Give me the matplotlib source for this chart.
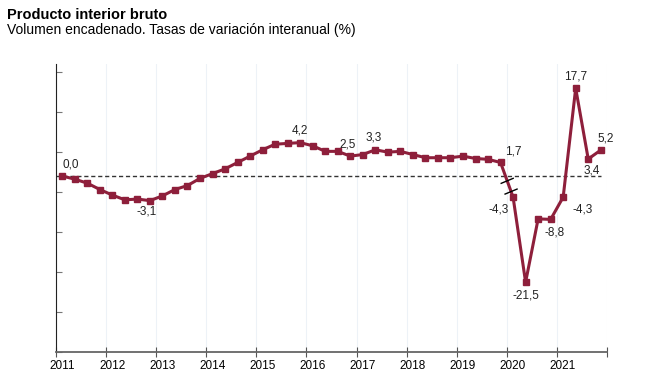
import numpy as np
import matplotlib
matplotlib.use('Agg')
import matplotlib.pyplot as plt
from matplotlib.transforms import ScaledTranslation

plt.rcParams['font.family'] = ['Liberation Sans', 'DejaVu Sans']

# PIB, tasas de variación interanual (%), trimestral
years = list(range(2011, 2022))
pib_2011_2019 = [0.0, -0.4, -0.9, -1.7,
                 -2.4, -3.0, -2.9, -3.1,
                 -2.5, -1.7, -1.2, -0.3,
                 0.3, 0.9, 1.7, 2.5,
                 3.3, 4.0, 4.1, 4.2,
                 3.8, 3.1, 3.1, 2.5,
                 2.7, 3.3, 3.0, 3.1,
                 2.7, 2.3, 2.3, 2.3,
                 2.5, 2.2, 2.1, 1.7]
pib_2020_2021 = [-4.3, -21.5, -8.7, -8.8,
                 -4.3, 17.7, 3.4, 5.2]

# etiquetas: (indice, texto, dx px, dy px, ha, va)
labels_pre = [(0, '0,0', 0, 6, 'left', 'bottom'),
              (7, '-3,1', -3, -5, 'center', 'top'),
              (19, '4,2', 0, 6, 'center', 'bottom'),
              (23, '2,5', -3, 6, 'center', 'bottom'),
              (25, '3,3', -2, 6, 'center', 'bottom'),
              (35, '1,7', 4, 5, 'left', 'bottom')]
labels_post = [(0, '-4,3', -4, -6, 'right', 'top'),
               (1, '-21,5', 0, -7, 'center', 'top'),
               (3, '-8,8', 4, -7, 'center', 'top'),
               (4, '-4,3', 9, -6, 'left', 'top'),
               (5, '17,7', 0, 6, 'center', 'bottom'),
               (6, '3,4', 4, -5, 'center', 'top'),
               (7, '5,2', 5, 6, 'center', 'bottom')]

color = '#8E1F3B'

quarters = np.arange(years[0], years[-1] + 1, 0.25) + 0.125
x_pre = quarters[:len(pib_2011_2019)]
x_post = quarters[len(pib_2011_2019):]

fig = plt.figure(figsize=(6.49, 3.91), dpi=100)
ax = fig.add_axes([56 / 649, 39 / 391, 551 / 649, 288 / 391])
ax2 = ax.twinx()

ax.set_xlim(years[0], years[-1] + 1)
ax.set_ylim(-35.6, 22.6)
ax2.set_ylim(-22.14, 14.09)
ax2.axis('off')

for s in ['top', 'right']:
    ax.spines[s].set_visible(False)
ax.spines['left'].set_color('#222222')
ax.spines['bottom'].set_color('#666666')
ax.spines['bottom'].set_linewidth(1.3)

ax.set_xticks(list(years) + [years[-1] + 1])
ax.set_xticklabels([str(y) for y in years] + [''])
ax.tick_params(axis='x', direction='inout', length=7, color='#555555', labelsize=8.5, pad=2)
for lab in ax.get_xticklabels():
    lab.set_transform(lab.get_transform() + ScaledTranslation(6 / 100, 0, fig.dpi_scale_trans))
ax.set_yticks(np.linspace(-35.6, 21.0, 8))
ax.set_yticklabels([])
ax.tick_params(axis='y', direction='in', length=4, color='#777777')
ax.grid(axis='x', color='#EDF2F7', linewidth=0.8)
ax.set_axisbelow(True)

ax.hlines(0, years[0], x_post[-1], colors='#333333', linestyles=(0, (3, 2)), linewidth=1)

ax2.plot(x_pre, pib_2011_2019, color=color, linewidth=2.2, marker='s', markersize=5)
ax.plot(x_post, pib_2020_2021, color=color, linewidth=2.2, marker='s', markersize=5, zorder=3)

# tramo de unión con rotura de escala
p0 = ax2.transData.transform((x_pre[-1], pib_2011_2019[-1]))
p1 = ax.transData.transform((x_post[0], pib_2020_2021[0]))
inv = ax.transData.inverted()
a0 = inv.transform(p0)
ax.plot([a0[0], x_post[0]], [a0[1], pib_2020_2021[0]], color=color, linewidth=2.2, zorder=3)
for t in (0.53, 0.84):
    c = p0 + t * (p1 - p0)
    m = inv.transform([c + np.array([-6, -2.5]), c + np.array([6, 2.5])])
    ax.plot(m[:, 0], m[:, 1], color='black', linewidth=1, zorder=4)

for i, txt, dx, dy, ha, va in labels_pre:
    ax2.annotate(txt, (x_pre[i], pib_2011_2019[i]), xytext=(dx, dy), textcoords='offset pixels',
                 ha=ha, va=va, fontsize=8.5, color='#222222')
for i, txt, dx, dy, ha, va in labels_post:
    ax.annotate(txt, (x_post[i], pib_2020_2021[i]), xytext=(dx, dy), textcoords='offset pixels',
                ha=ha, va=va, fontsize=8.5, color='#222222')

fig.text(7 / 649, 1 - 15 / 391, 'Producto interior bruto', fontsize=10.5, fontweight='bold', va='center')
fig.text(7 / 649, 1 - 30 / 391, 'Volumen encadenado. Tasas de variación interanual (%)', fontsize=10, va='center')

fig.savefig('out.png', dpi=100)
